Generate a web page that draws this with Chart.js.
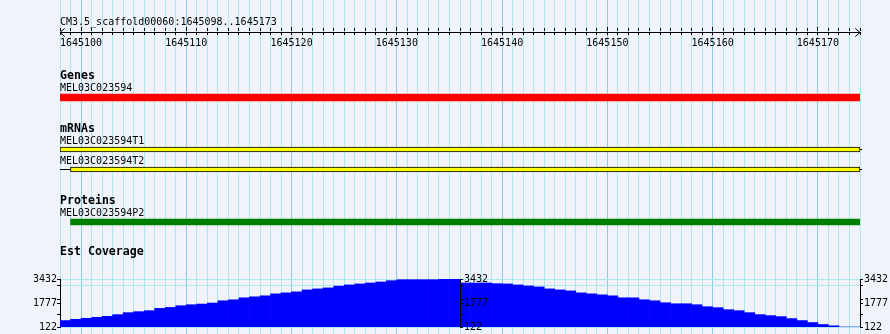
<!DOCTYPE html>
<html><head><meta charset="utf-8">
<script src="https://cdn.jsdelivr.net/npm/chart.js@4.4.1/dist/chart.umd.min.js"></script>
<style>
html,body{margin:0;padding:0;background:#f0f4fa;}
#wrap{position:relative;width:890px;height:334px;overflow:hidden;background:#f0f4fa;}
canvas{position:absolute;}
.lbl{position:absolute;left:60px;font-family:'DejaVu Sans Mono',monospace;font-size:10px;line-height:10px;color:#000;white-space:nowrap;z-index:5;}
.ttl{position:absolute;left:60px;font-family:'DejaVu Sans Mono',monospace;font-size:11.6px;line-height:11.6px;font-weight:bold;color:#000;white-space:nowrap;z-index:5;}
</style></head>
<body><div id="wrap">
<canvas id="cA" width="890" height="334" style="left:0;top:0;z-index:1"></canvas>
<canvas id="cB2" width="430" height="68" style="left:460px;top:266px;z-index:2"></canvas>
<canvas id="cB1" width="490" height="68" style="left:0;top:266px;z-index:3"></canvas>
</div>
<script>
// ---------- data ----------
const refName = 'CM3.5_scaffold00060';
const viewStart = 1645098;
const viewEnd = 1645174;           // right edge (last base 1645173)
const positions = [1645098,1645099,1645100,1645101,1645102,1645103,1645104,1645105,1645106,1645107,
  1645108,1645109,1645110,1645111,1645112,1645113,1645114,1645115,1645116,1645117,
  1645118,1645119,1645120,1645121,1645122,1645123,1645124,1645125,1645126,1645127,
  1645128,1645129,1645130,1645131,1645132,1645133,1645134,1645135,1645136,1645137,
  1645138,1645139,1645140,1645141,1645142,1645143,1645144,1645145,1645146,1645147,
  1645148,1645149,1645150,1645151,1645152,1645153,1645154,1645155,1645156,1645157,
  1645158,1645159,1645160,1645161,1645162,1645163,1645164,1645165,1645166,1645167,
  1645168,1645169,1645170,1645171,1645172,1645173];
const coverage = [566,654,723,791,859,975,1112,1180,1248,1405,
  1473,1589,1658,1705,1774,1931,1999,2135,2204,2272,
  2408,2477,2545,2681,2750,2818,2941,3023,3091,3159,
  3227,3316,3384,3384,3384,3384,3432,3432,3159,3159,
  3159,3111,3091,3023,2954,2886,2750,2681,2613,2477,
  2408,2340,2272,2135,2135,1999,1931,1794,1726,1726,
  1658,1521,1453,1316,1248,1112,975,907,839,702,
  566,429,293,204,122,122];
const covMin = 122, covMax = 3432;
const covLabelTicks = [122, 1777, 3432];
const covMinorTicks = [1000, 2000, 3000];
const covGridValues = [122, 3000, 3432];
const trackTitles = ['Genes', 'mRNAs', 'Proteins', 'Est Coverage'];
const featureNames = ['MEL03C023594', 'MEL03C023594T1', 'MEL03C023594T2', 'MEL03C023594P2'];
const geneSpan = [1645098, 1645174];
const mrnaT1Span = [1645098, 1645174];
const mrnaT2Span = [1645099, 1645174];
const mrnaT2Leader = [1645098, 1645099];
const proteinSpan = [1645099, 1645174];

// ---------- layout / style ----------
const BG = '#f0f4fa', MINOR = '#aee8ee', MAJOR = '#8ccbe8';
const FONT = "'DejaVu Sans Mono', monospace";
const ROW = {ruler: 32, gene: 97.5, t1: 149.5, t2: 169.5, protein: 222};
const titleTops = [70.2, 122.5, 194.6, 246.2];
const nameTops = [83.2, 135.8, 155.5, 207.7];
const headerTop = 16.5;

const wrap = document.getElementById('wrap');
function addText(cls, text, top) {
  const d = document.createElement('div');
  d.className = cls; d.textContent = text; d.style.top = top + 'px';
  wrap.appendChild(d);
}
addText('lbl', refName + ':' + positions[0] + '..' + positions[positions.length - 1], headerTop);
trackTitles.forEach((t, i) => addText('ttl', t, titleTops[i]));
featureNames.forEach((t, i) => addText('lbl', t, nameTops[i]));

const isMajor = v => Math.round(v) % 10 === 0;
const noHeight = s => { s.height = 0; };
function rulerAxis(rowY, len, o) {
  o = o || {};
  return {
    type: 'linear', axis: 'x', min: viewStart, max: viewEnd, position: {y: rowY}, offset: false,
    afterFit: noHeight,
    ticks: {stepSize: 1, autoSkip: false, maxRotation: 0, minRotation: 0,
      display: !!o.labels, padding: 3, color: '#000', font: {family: FONT, size: 10},
      callback: v => isMajor(v) ? String(v) : ''},
    grid: {drawOnChartArea: false, drawTicks: true, tickLength: len, tickWidth: 1, offset: false,
      tickColor: o.majorOnly ? (c => (c.tick && isMajor(c.tick.value)) ? '#000' : 'rgba(0,0,0,0)') : '#000'},
    border: {display: !!o.border, color: '#000', width: 1}
  };
}
const seg = (span, y) => [{x: span[0], y: y}, {x: span[1], y: y}];
const lineDs = (data, w) => ({type: 'line', data: data, borderColor: '#000', borderWidth: w || 1,
  pointRadius: 0, fill: false, tension: 0, clip: false, xAxisID: 'x', yAxisID: 'y'});
const barDs = (span, row, color, thick, border) => ({type: 'bar', indexAxis: 'y', grouped: false,
  data: [{y: row, x: span}], backgroundColor: color, borderColor: '#000',
  borderWidth: border ? 1 : 0, borderSkipped: false, barThickness: thick, xAxisID: 'x', yAxisID: 'y'});

new Chart(document.getElementById('cA'), {
  data: {datasets: [
    barDs(geneSpan, ROW.gene, '#ff0000', 7, false),
    barDs(mrnaT1Span, ROW.t1, '#ffff00', 5, true),
    barDs(mrnaT2Span, ROW.t2, '#ffff00', 5, true),
    barDs(proteinSpan, ROW.protein, '#008000', 6, false),
    lineDs(seg(mrnaT2Leader, ROW.t2)),
    lineDs([{x: mrnaT1Span[1], y: ROW.t1}, {x: mrnaT1Span[1] + 0.2, y: ROW.t1}]),
    lineDs([{x: mrnaT2Span[1], y: ROW.t2}, {x: mrnaT2Span[1] + 0.2, y: ROW.t2}]),
    lineDs([{x: viewStart + 0.45, y: ROW.ruler - 3.5}, {x: viewStart, y: ROW.ruler + 0.5}, {x: viewStart + 0.45, y: ROW.ruler + 4.5}]),
    lineDs([{x: viewEnd - 0.45, y: ROW.ruler - 3.5}, {x: viewEnd, y: ROW.ruler + 0.5}, {x: viewEnd - 0.45, y: ROW.ruler + 4.5}])
  ]},
  options: {
    responsive: false, animation: false, events: [],
    layout: {padding: {left: 60, right: 30, top: 0, bottom: 0}},
    plugins: {legend: {display: false}, tooltip: {enabled: false}},
    scales: {
      x: {type: 'linear', position: 'bottom', min: viewStart, max: viewEnd, afterFit: noHeight, offset: false,
        ticks: {display: false, stepSize: 1},
        grid: {drawTicks: false, lineWidth: 1, offset: false, color: c => (c.tick && isMajor(c.tick.value)) ? MAJOR : MINOR},
        border: {display: false}},
      y: {type: 'linear', min: 0, max: 334, reverse: true, display: false, offset: false, grid: {offset: false}},
      xr: rulerAxis(ROW.ruler, 2, {labels: true, border: true}),
      xrUp: rulerAxis(ROW.ruler - 4, 3),
      xrMajUp: rulerAxis(ROW.ruler - 5, 1, {majorOnly: true}),
      xrMajDn: rulerAxis(ROW.ruler + 2, 1, {majorOnly: true})
    }
  }
});

const covTicks = covLabelTicks.concat(covMinorTicks).sort((a, b) => a - b);
function covAxis(pos, width, showGrid, pad) {
  return {
    type: 'linear', position: pos, min: covMin, max: covMax,
    afterBuildTicks: s => { s.ticks = covTicks.map(v => ({value: v})); },
    afterFit: s => { s.width = width; },
    ticks: {autoSkip: false, padding: pad, color: '#000', font: {family: FONT, size: 10},
      callback: v => covLabelTicks.includes(v) ? String(v) : ''},
    grid: {drawOnChartArea: showGrid, drawTicks: true, tickLength: 3, tickColor: '#000', lineWidth: 1,
      color: c => (c.tick && covGridValues.includes(c.tick.value)) ? MINOR : 'rgba(0,0,0,0)'},
    border: {display: true, color: '#000', width: 1}
  };
}
function covChart(id, lo, hi, axisId, scales) {
  return new Chart(document.getElementById(id), {
    type: 'bar',
    data: {labels: positions.map(String), datasets: [{data: coverage, backgroundColor: '#0000ff',
      borderWidth: 0, barPercentage: 1, categoryPercentage: 1, yAxisID: axisId}]},
    options: {
      responsive: false, animation: false, events: [],
      layout: {padding: {left: 0, right: 0, top: 13, bottom: 6}},
      plugins: {legend: {display: false}, tooltip: {enabled: false}},
      scales: Object.assign({x: {type: 'category', min: lo, max: hi, display: false}}, scales)
    }
  });
}
covChart('cB1', 0, 37, 'yl', {yl: covAxis('left', 60, true, 0), yr: covAxis('right', 30, false, 1)});
covChart('cB2', 38, 75, 'yr', {yr: covAxis('right', 30, true, 1)});
</script>
</body></html>
